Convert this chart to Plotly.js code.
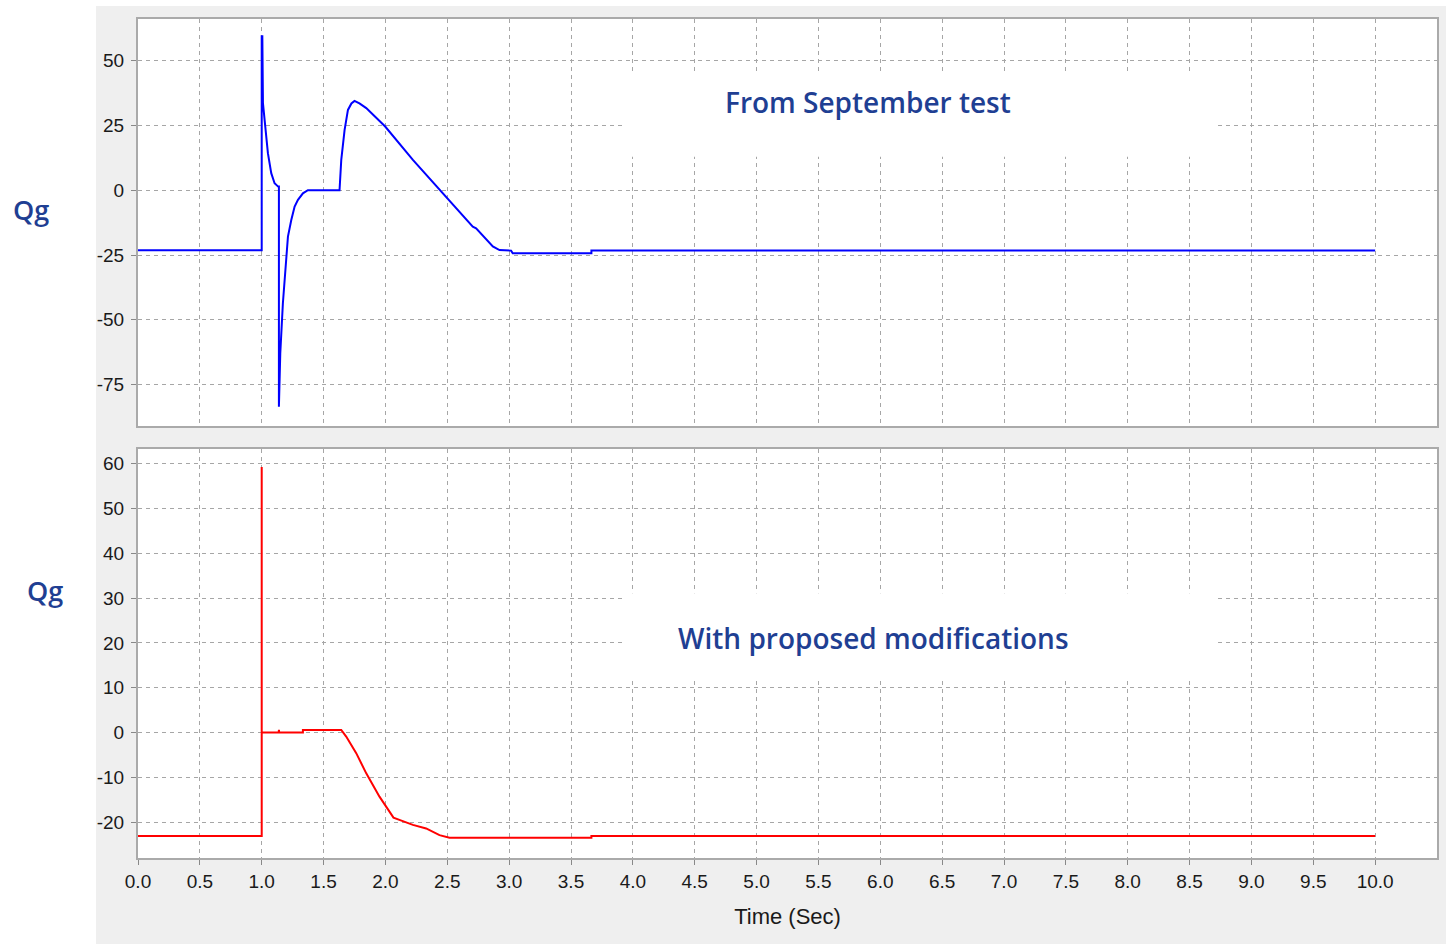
<!DOCTYPE html>
<html>
<head>
<meta charset="utf-8">
<script src="https://cdn.plot.ly/plotly-3.0.1.min.js"></script>
<style>html,body{margin:0;padding:0;background:#fff;}#chart{width:1446px;height:944px;}</style>
</head>
<body>
<div id="chart"></div>
<script>
// Top panel: "From September test" (blue)
const timeSeptember = [0, 1.0, 1.0, 1.005, 1.010, 1.023, 1.035, 1.050, 1.077, 1.104, 1.133, 1.139, 1.139, 1.150, 1.171, 1.198, 1.212, 1.239, 1.266, 1.293, 1.333, 1.373, 1.629, 1.643, 1.670, 1.697, 1.725, 1.750, 1.790, 1.845, 1.998, 2.222, 2.491, 2.706, 2.733, 2.868, 2.922, 3.016, 3.029, 3.665, 3.665, 10.0];
const qgSeptember   = [-23.2, -23.2, 59.4, 59.4, 33.6, 27.2, 20.7, 14.3, 6.6, 2.7, 1.4, 1.4, -83.6, -63.0, -43.7, -24.3, -17.9, -11.5, -6.3, -3.7, -1.2, 0, 0, 11.7, 23.3, 31.0, 33.5, 34.5, 33.5, 31.7, 24.6, 11.7, -2.5, -14.1, -14.7, -21.7, -23.1, -23.3, -24.3, -24.3, -23.3, -23.3];

// Bottom panel: "With proposed modifications" (red)
const timeProposed = [0, 1.0, 1.0, 1.0, 1.137, 1.139, 1.141, 1.333, 1.333, 1.643, 1.683, 1.764, 1.845, 1.952, 2.065, 2.113, 2.222, 2.329, 2.437, 2.518, 3.665, 3.665, 10.0];
const qgProposed   = [-23.1, -23.1, 59.3, 0, 0, 0.6, 0, 0, 0.6, 0.6, -0.9, -4.6, -9.1, -14.3, -19.0, -19.5, -20.6, -21.4, -22.9, -23.5, -23.5, -23.1, -23.1];

const xTickVals = [0,0.5,1,1.5,2,2.5,3,3.5,4,4.5,5,5.5,6,6.5,7,7.5,8,8.5,9,9.5,10];
const xTickText = ["0.0","0.5","1.0","1.5","2.0","2.5","3.0","3.5","4.0","4.5","5.0","5.5","6.0","6.5","7.0","7.5","8.0","8.5","9.0","9.5","10.0"];
const yTopTicks = [-75,-50,-25,0,25,50];
const yBottomTicks = [-20,-10,0,10,20,30,40,50,60];

const labelTitle = "Qg";
const labelTop = "From September test";
const labelBottom = "With proposed modifications";
const xTitle = "Time (Sec)";

const gridCol = '#a6a6a6';
const frameCol = '#aaaaaa';
const tickFont = {family: 'Liberation Sans, Arial, sans-serif', size: 19, color: '#1a1a1a'};
const labelFont = {family: 'Open Sans, Noto Sans, sans-serif', size: 28, color: '#1f3f93', weight: 600};

const traces = [
  {x: timeSeptember, y: qgSeptember, type: 'scatter', mode: 'lines', line: {color: '#0000ff', width: 2}, xaxis: 'x', yaxis: 'y', hoverinfo: 'skip'},
  {x: timeProposed, y: qgProposed, type: 'scatter', mode: 'lines', line: {color: '#ff0000', width: 2}, xaxis: 'x2', yaxis: 'y2', hoverinfo: 'skip'}
];

const commonX = {
  range: [0, 10.5], showgrid: true, gridcolor: gridCol, griddash: '4px,4px', gridwidth: 1,
  zeroline: false, showline: true, mirror: true, linecolor: frameCol, linewidth: 2,
  tickmode: 'array', tickvals: xTickVals, ticktext: xTickText, tickfont: tickFont
};
const commonY = {
  showgrid: true, gridcolor: gridCol, griddash: '4px,4px', gridwidth: 1,
  zeroline: false, showline: true, mirror: true, linecolor: frameCol, linewidth: 2,
  ticks: 'outside', ticklen: 5, tickcolor: '#888', tickfont: tickFont, tickmode: 'array', ticklabelstandoff: 3
};

const layout = {
  width: 1446, height: 944,
  margin: {l: 138, r: 9, t: 19, b: 86},
  paper_bgcolor: '#efefef', plot_bgcolor: '#ffffff',
  showlegend: false,
  xaxis: Object.assign({}, commonX, {anchor: 'y', domain: [0, 1], showticklabels: false, ticks: '', matches: 'x2'}),
  xaxis2: Object.assign({}, commonX, {anchor: 'y2', domain: [0, 1], ticks: 'outside', ticklen: 5, tickcolor: '#888',
    title: {text: xTitle, font: {family: 'Liberation Sans, Arial, sans-serif', size: 22, color: '#1a1a1a'}, standoff: 18}}),
  yaxis: Object.assign({}, commonY, {anchor: 'x', domain: [0.5149, 1], range: [-91, 66.1], tickvals: yTopTicks, ticktext: yTopTicks.map(String)}),
  yaxis2: Object.assign({}, commonY, {anchor: 'x2', domain: [0, 0.4875], range: [-28, 63.3], tickvals: yBottomTicks, ticktext: yBottomTicks.map(String)}),
  shapes: [
    {type: 'rect', xref: 'paper', yref: 'paper', x0: -0.1062, x1: -0.0323, y0: -0.103, y1: 1.023, fillcolor: '#ffffff', line: {width: 0}, layer: 'below'},
    {type: 'rect', xref: 'paper', yref: 'paper', x0: -0.1062, x1: 1.0075, y0: 1.0155, y1: 1.023, fillcolor: '#ffffff', line: {width: 0}, layer: 'below'},
    {type: 'rect', xref: 'x', yref: 'y', x0: 3.93, x1: 8.73, y0: 12.9, y1: 45.3, fillcolor: '#ffffff', line: {width: 0}, layer: 'between'},
    {type: 'rect', xref: 'x2', yref: 'y2', x0: 3.93, x1: 8.73, y0: 12.4, y1: 31.1, fillcolor: '#ffffff', line: {width: 0}, layer: 'between'}
  ],
  annotations: [
    {text: labelTop, xref: 'x', yref: 'y', x: 5.898, y: 34.1, showarrow: false, font: labelFont, xanchor: 'center', yanchor: 'middle'},
    {text: labelBottom, xref: 'x2', yref: 'y2', x: 5.943, y: 21.1, showarrow: false, font: labelFont, xanchor: 'center', yanchor: 'middle'},
    {text: labelTitle, xref: 'paper', yref: 'paper', x: (31 - 138) / 1299, y: (858 - 209) / 839, showarrow: false, font: {family: 'Open Sans, Noto Sans, sans-serif', size: 27, color: '#1f3f93', weight: 600}, xanchor: 'center', yanchor: 'middle'},
    {text: labelTitle, xref: 'paper', yref: 'paper', x: (45 - 138) / 1299, y: (858 - 590) / 839, showarrow: false, font: {family: 'Open Sans, Noto Sans, sans-serif', size: 27, color: '#1f3f93', weight: 600}, xanchor: 'center', yanchor: 'middle'}
  ]
};

Plotly.newPlot('chart', traces, layout, {displayModeBar: false, staticPlot: true});
</script>
</body>
</html>
